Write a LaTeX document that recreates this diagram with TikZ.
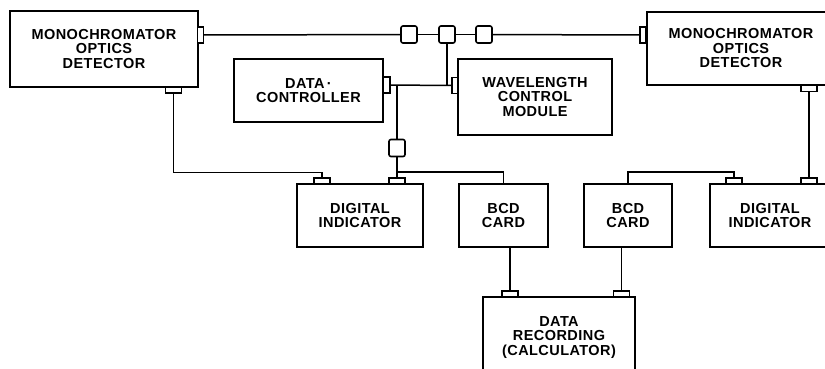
\documentclass[tikz,border=0pt]{standalone}
\usepackage{fontspec}
\setmainfont{Liberation Sans}
\newfontfamily\labelfont[LetterSpace=3]{Liberation Sans Bold}

\begin{document}
\begin{tikzpicture}[x=1pt,y=-1pt]
        % Define styles
        \tikzset{
            unit/.style={rectangle, draw, line width=1.6pt, inner sep=0pt, align=center,
                font=\labelfont\fontsize{14.5}{14.5}\selectfont},
            hport/.style={rectangle, draw, fill=white, line width=1.4pt, minimum width=16pt, minimum height=6pt, inner sep=0pt},
            vport/.style={rectangle, draw, fill=white, line width=1.4pt, minimum width=6pt, minimum height=16pt, inner sep=0pt},
            junction/.style={rectangle, draw, fill=white, rounded corners=2pt, line width=1.6pt, minimum width=16pt, minimum height=17pt, inner sep=0pt},
            wire/.style={line width=1.5pt}
        }

        \useasboundingbox (0,0) rectangle (825,368);
        \clip (0,0) rectangle (825,368);

        % Nodes
        \node[unit, minimum width=188pt, minimum height=76pt] (mono_node_1) at (104,49) {MONOCHROMATOR\\OPTICS\\DETECTOR};
        \node[unit, minimum width=188pt, minimum height=73pt] (mono_node_2) at (741,48.5) {MONOCHROMATOR\\OPTICS\\DETECTOR};
        \node[unit, minimum width=149pt, minimum height=63pt] (controller_node) at (308.5,90.5) {DATA\,·\\CONTROLLER};
        \node[unit, minimum width=154pt, minimum height=76pt] (wavelength_node) at (535,97) {WAVELENGTH\\CONTROL\\MODULE};
        \node[unit, minimum width=126pt, minimum height=63pt] (indicator_node_1) at (360,215.5) {DIGITAL\\INDICATOR};
        \node[unit, minimum width=89pt, minimum height=63pt] (bcd_node_1) at (503.5,215.5) {BCD\\CARD};
        \node[unit, minimum width=88pt, minimum height=63pt] (bcd_node_2) at (628,215.5) {BCD\\CARD};
        \node[unit, minimum width=120pt, minimum height=63pt] (indicator_node_2) at (770,215.5) {DIGITAL\\INDICATOR};
        \node[unit, minimum width=152pt, minimum height=81pt] (recording_node) at (559,337.5) {DATA\\RECORDING\\(CALCULATOR)};

        % Ports
        \node[vport] (port_mono_1_r) at (200.5,35) {};
        \node[hport] (port_mono_1_b) at (173.5,90) {};
        \node[vport] (port_mono_2_l) at (643,35) {};
        \node[hport] (port_mono_2_b) at (809,88.5) {};
        \node[vport, minimum width=7pt] (port_controller_r) at (386.5,85) {};
        \node[vport] (port_wavelength_l) at (455,85.5) {};
        \node[hport] (port_indicator_1_a) at (322,181) {};
        \node[hport] (port_indicator_1_b) at (397,181) {};
        \node[hport] (port_indicator_2_a) at (734,181) {};
        \node[hport] (port_indicator_2_b) at (809,181) {};
        \node[hport] (port_recording_a) at (510,294) {};
        \node[hport] (port_recording_b) at (621.5,294) {};

        % Junctions
        \node[junction] (junction_node_1) at (409,34.5) {};
        \node[junction] (junction_node_2) at (447,34.5) {};
        \node[junction] (junction_node_3) at (484,34.5) {};
        \node[junction] (junction_node_4) at (397,148) {};
        \coordinate (tap_node) at (397,172);

        % Lines
        \draw[wire] (port_mono_1_r) -- (junction_node_1);
        \draw[wire] (junction_node_1) -- (junction_node_2);
        \draw[wire] (junction_node_2) -- (junction_node_3);
        \draw[wire] (junction_node_3) -- (port_mono_2_l);
        \draw[wire] (port_controller_r) -- (port_wavelength_l);
        \draw[wire] (junction_node_2) -- (junction_node_2 |- port_wavelength_l);
        \draw[wire] (junction_node_4 |- port_controller_r) -- (junction_node_4);
        \draw[wire] (junction_node_4) -- (port_indicator_1_b);
        \draw[wire] (tap_node) -| (bcd_node_1.north);
        \draw[wire] (port_mono_1_b.south) -- ++(0,79) -| (port_indicator_1_a.north);
        \draw[wire] (port_mono_2_b) -- (port_indicator_2_b);
        \draw[wire] (bcd_node_2.north) -- ++(0,-11) -| (port_indicator_2_a.north);
        \draw[wire] (port_recording_a) -- (port_recording_a |- bcd_node_1.south);
        \draw[wire] (port_recording_b) -- (port_recording_b |- bcd_node_2.south);
    \end{tikzpicture}
\end{document}
